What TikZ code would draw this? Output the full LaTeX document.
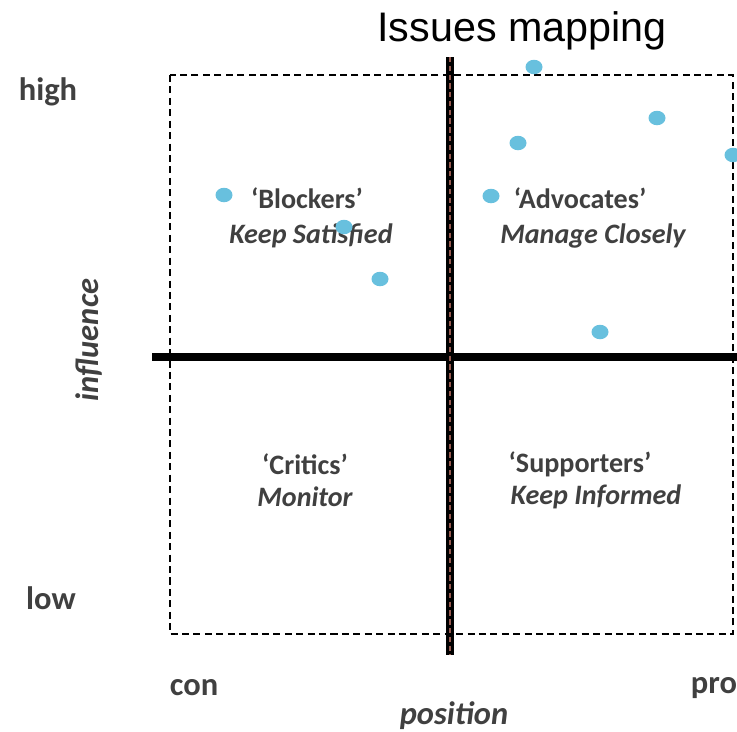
\documentclass[tikz,border=0pt]{standalone}
\usepackage{fontspec}
\setmainfont{Carlito}
\newfontfamily\titlefont{Liberation Sans}
\usepackage{tikz}
\usetikzlibrary{positioning, shapes.geometric}
\definecolor{dotblue}{RGB}{104,192,222}
\definecolor{labelgray}{RGB}{64,64,64}
\definecolor{axisbrown}{RGB}{150,90,80}

\begin{document}
\begin{tikzpicture}[
    x=0.02cm, y=-0.02cm,
    dot/.style={ellipse, fill=dotblue, minimum width=0.34cm, minimum height=0.29cm, inner sep=0pt},
    group/.style={font=\fontsize{16}{18}\selectfont\bfseries, text=labelgray, align=center},
    action/.style={font=\fontsize{16}{18}\selectfont\bfseries\itshape, text=labelgray, align=center},
    scale label/.style={font=\fontsize{18.5}{21}\selectfont\bfseries, text=labelgray},
    axis label/.style={font=\fontsize{18.5}{21}\selectfont\bfseries\itshape, text=labelgray},
    axis/.style={line width=5pt, black}
]
    \useasboundingbox (0,0) rectangle (737,731);

    % Title
    \node[font=\titlefont\fontsize{23.5}{26}\selectfont] (title) at (522,31) {Issues mapping};

    % Dashed frame
    \draw[line width=0.8pt, dash pattern=on 4pt off 2.5pt] (170,75) rectangle (733,634);

    % Axes
    \coordinate (xleft) at (152,357);
    \coordinate (xright) at (737,357);
    \coordinate (ytop) at (450,57);
    \coordinate (ybottom) at (450,655);
    \draw[axis] (xleft) -- (xright);
    \draw[axis] (ytop) -- (ybottom);
    \draw[axisbrown, line width=1.2pt, dash pattern=on 3pt off 2pt] (ytop) -- (ybottom);

    % Axis labels
    \node[scale label] (high) at (48,92) {high};
    \node[scale label] (low) at (51,598) {low};
    \node[scale label] (con) at (194,688) {con};
    \node[scale label] (pro) at (714,688) {pro};
    \node[axis label] (position) at (454,716) {position};
    \node[axis label, rotate=90] (influence) at (89,340) {influence};

    % Quadrants
    \node[group] (blockers) at (307,198) {‘Blockers’};
    \node[action] (satisfied) at (311,236) {Keep Satisfied};
    \node[group] (advocates) at (580,198) {‘Advocates’};
    \node[action] (closely) at (593,236) {Manage Closely};
    \node[group] (critics) at (305,464) {‘Critics’};
    \node[action] (monitor) at (305,497) {Monitor};
    \node[group] (supporters) at (580,464) {‘Supporters’};
    \node[action] (informed) at (596,497) {Keep Informed};

    % Issues
    \node[dot] (i1) at (534,67) {};
    \node[dot] (i2) at (657,118) {};
    \node[dot] (i3) at (518,143) {};
    \node[dot] (i4) at (733,155) {};
    \node[dot] (i5) at (491,196) {};
    \node[dot] (i6) at (224,195) {};
    \node[dot] (i7) at (344,227) {};
    \node[dot] (i8) at (380,279) {};
    \node[dot] (i9) at (600,332) {};
\end{tikzpicture}
\end{document}
